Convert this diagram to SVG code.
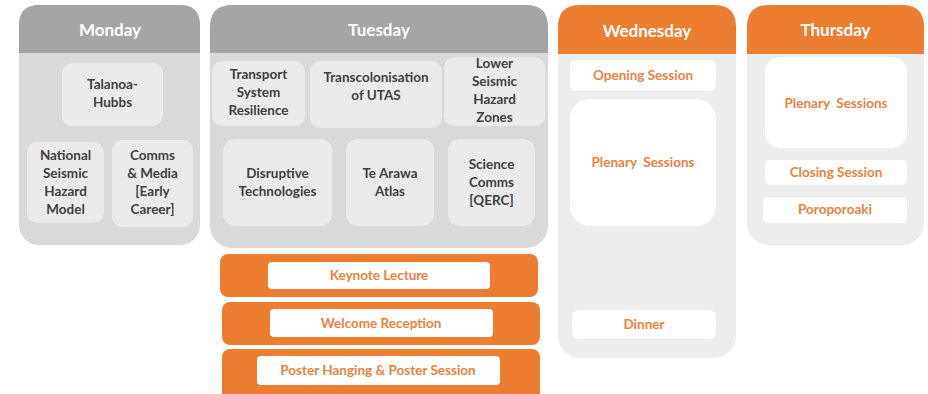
<svg xmlns="http://www.w3.org/2000/svg" width="928" height="394" viewBox="0 0 928 394">
<style>
.bg{fill:#ffffff}
.bodyG{fill:#d9d9d9}
.bodyL{fill:#ededed}
.hdG{fill:#a5a5a5}
.hdO{fill:#ed7d31}
.inG{fill:#ebebeb}
.inW{fill:#ffffff}
.title{font-family:Lato,"Liberation Sans",sans-serif;font-weight:bold;font-size:17px;fill:#ffffff;text-anchor:middle}
.t{font-family:Lato,"Liberation Sans",sans-serif;font-weight:bold;font-size:13.5px;fill:#404040;text-anchor:middle}
.o{font-family:Lato,"Liberation Sans",sans-serif;font-weight:bold;font-size:13.5px;fill:#e9823f;text-anchor:middle;white-space:pre}
</style>
<rect class="bg" x="0" y="0" width="928" height="394"/>

<g id="monday">
<rect class="bodyG" x="19" y="5" width="181" height="240" rx="20"/>
<path class="hdG" d="M19,53 V25 Q19,5 39,5 H180 Q200,5 200,25 V53 Z"/>
<text class="title" x="110" y="36">Monday</text>
</g>
<g id="talanoa">
<rect class="inG" x="62" y="63" width="101" height="63" rx="10"/>
<text class="t" x="112.5" y="89">Talanoa-</text>
<text class="t" x="112.5" y="107">Hubbs</text>
</g>
<g id="nshm">
<rect class="inG" x="27" y="142" width="77" height="81" rx="10"/>
<text class="t" x="65.5" y="160">National</text>
<text class="t" x="65.5" y="178">Seismic</text>
<text class="t" x="65.5" y="196">Hazard</text>
<text class="t" x="65.5" y="214">Model</text>
</g>
<g id="comms">
<rect class="inG" x="112" y="140" width="81" height="87" rx="10"/>
<text class="t" x="152.5" y="160">Comms</text>
<text class="t" x="152.5" y="178">&amp; Media</text>
<text class="t" x="152.5" y="196">[Early</text>
<text class="t" x="152.5" y="214">Career]</text>
</g>

<g id="tuesday">
<rect class="bodyG" x="210" y="5" width="338" height="243" rx="22"/>
<path class="hdG" d="M210,53 V27 Q210,5 232,5 H526 Q548,5 548,27 V53 Z"/>
<text class="title" x="379" y="36">Tuesday</text>
</g>
<g id="transport">
<rect class="inG" x="212" y="61" width="93" height="65" rx="10"/>
<text class="t" x="258.5" y="79">Transport</text>
<text class="t" x="258.5" y="97">System</text>
<text class="t" x="258.5" y="115">Resilience</text>
</g>
<g id="transcol">
<rect class="inG" x="310" y="61" width="132" height="67" rx="10"/>
<text class="t" x="376" y="82">Transcolonisation</text>
<text class="t" x="376" y="100">of UTAS</text>
</g>
<g id="lower">
<rect class="inG" x="444" y="57" width="101" height="69" rx="10"/>
<text class="t" x="494.5" y="68">Lower</text>
<text class="t" x="494.5" y="86">Seismic</text>
<text class="t" x="494.5" y="104">Hazard</text>
<text class="t" x="494.5" y="122">Zones</text>
</g>
<g id="disruptive">
<rect class="inG" x="223" y="139" width="109" height="87" rx="12"/>
<text class="t" x="277.5" y="178">Disruptive</text>
<text class="t" x="277.5" y="196">Technologies</text>
</g>
<g id="tearawa">
<rect class="inG" x="346" y="139" width="88" height="87" rx="12"/>
<text class="t" x="390" y="178">Te Arawa</text>
<text class="t" x="390" y="196">Atlas</text>
</g>
<g id="science">
<rect class="inG" x="448" y="139" width="87" height="87" rx="12"/>
<text class="t" x="491.5" y="169">Science</text>
<text class="t" x="491.5" y="187">Comms</text>
<text class="t" x="491.5" y="205">[QERC]</text>
</g>

<g id="keynote">
<rect class="hdO" x="220" y="254" width="318" height="43" rx="8"/>
<rect class="inW" x="268" y="262" width="222" height="27" rx="4"/>
<text class="o" x="379" y="280">Keynote Lecture</text>
</g>
<g id="welcome">
<rect class="hdO" x="222" y="302" width="318" height="43" rx="8"/>
<rect class="inW" x="270" y="309" width="223" height="28" rx="4"/>
<text class="o" x="381" y="328">Welcome Reception</text>
</g>
<g id="poster">
<rect class="hdO" x="222" y="349" width="318" height="55" rx="8"/>
<rect class="inW" x="257" y="356" width="243" height="29" rx="4"/>
<text class="o" x="378" y="375">Poster Hanging &amp; Poster Session</text>
</g>

<g id="wednesday">
<rect class="bodyL" x="558" y="5" width="178" height="353" rx="22"/>
<path class="hdO" d="M558,54 V27 Q558,5 580,5 H714 Q736,5 736,27 V54 Z"/>
<text class="title" x="647" y="37">Wednesday</text>
</g>
<g id="opening">
<rect class="inW" x="570" y="60" width="146" height="31" rx="6"/>
<text class="o" x="643" y="80">Opening Session</text>
</g>
<g id="wedplenary">
<rect class="inW" x="570" y="99" width="146" height="127" rx="20"/>
<text class="o" x="643" y="167" xml:space="preserve">Plenary  Sessions</text>
</g>
<g id="dinner">
<rect class="inW" x="572" y="310" width="144" height="29" rx="6"/>
<text class="o" x="644" y="329">Dinner</text>
</g>

<g id="thursday">
<rect class="bodyL" x="747" y="5" width="177" height="240" rx="22"/>
<path class="hdO" d="M747,54 V27 Q747,5 769,5 H902 Q924,5 924,27 V54 Z"/>
<text class="title" x="835.5" y="36">Thursday</text>
</g>
<g id="thuplenary">
<rect class="inW" x="765" y="57" width="142" height="91" rx="15"/>
<text class="o" x="836" y="108" xml:space="preserve">Plenary  Sessions</text>
</g>
<g id="closing">
<rect class="inW" x="765" y="160" width="142" height="25" rx="5"/>
<text class="o" x="836" y="177">Closing Session</text>
</g>
<g id="poroporoaki">
<rect class="inW" x="763" y="197" width="144" height="26" rx="5"/>
<text class="o" x="835" y="214">Poroporoaki</text>
</g>
<g id="connectors"></g>
</svg>
